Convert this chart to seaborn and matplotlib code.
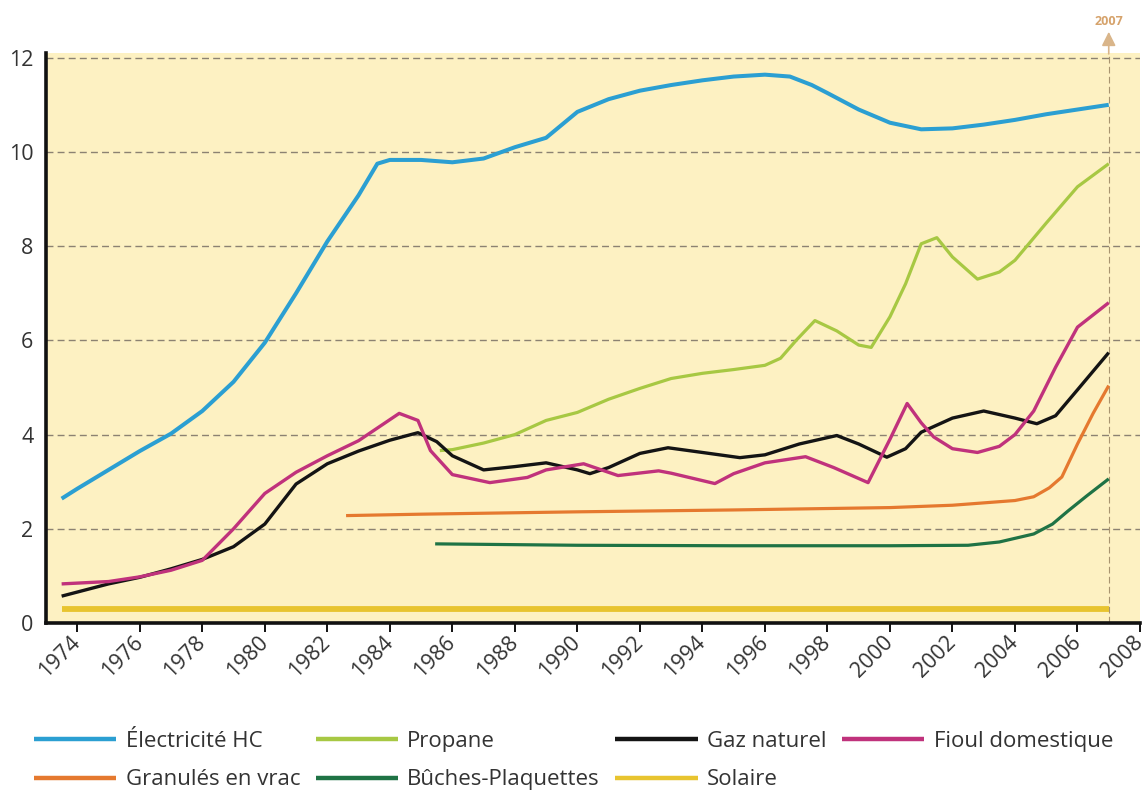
import matplotlib
matplotlib.use("Agg")
import matplotlib.pyplot as plt
import seaborn as sns
from matplotlib.lines import Line2D

# ---- data: price index per energy source (c€/kWh), by year ----
elec_years = [1973.5, 1974, 1975, 1976, 1977, 1978, 1979, 1980, 1981, 1982, 1983, 1983.6,
              1984, 1985, 1986, 1987, 1988, 1989, 1990, 1991, 1992, 1993, 1994, 1995,
              1996, 1996.8, 1997.5, 1998, 1999, 2000, 2001, 2002, 2003, 2004, 2005, 2006, 2007]
elec_vals = [2.64, 2.85, 3.25, 3.65, 4.02, 4.5, 5.12, 5.95, 7.0, 8.1, 9.08, 9.75,
             9.83, 9.83, 9.78, 9.86, 10.1, 10.3, 10.85, 11.12, 11.3, 11.42, 11.52, 11.6,
             11.64, 11.6, 11.42, 11.25, 10.9, 10.62, 10.48, 10.5, 10.58, 10.68, 10.8, 10.9, 11.0]

propane_years = [1985.6, 1986, 1987, 1988, 1989, 1990, 1991, 1992, 1993, 1994, 1995, 1996,
                 1996.5, 1997, 1997.6, 1998.3, 1999, 1999.4, 2000, 2000.5, 2001, 2001.5,
                 2002, 2002.8, 2003.5, 2004, 2005, 2006, 2007]
propane_vals = [3.66, 3.68, 3.82, 4.0, 4.3, 4.47, 4.75, 4.98, 5.19, 5.3, 5.38, 5.47,
                5.62, 6.0, 6.42, 6.2, 5.9, 5.85, 6.5, 7.2, 8.05, 8.18,
                7.77, 7.3, 7.45, 7.7, 8.49, 9.26, 9.75]

gaz_years = [1973.5, 1975, 1976, 1977, 1978, 1979, 1980, 1981, 1982, 1983, 1984, 1984.9,
             1985.5, 1986, 1987, 1988, 1989, 1990, 1990.4, 1991, 1992, 1992.9, 1994, 1995.2,
             1996, 1997.1, 1998.3, 1999, 1999.9, 2000.5, 2001, 2002, 2003, 2004, 2004.7,
             2005.3, 2006, 2007]
gaz_vals = [0.57, 0.83, 0.97, 1.15, 1.35, 1.62, 2.1, 2.95, 3.38, 3.65, 3.88, 4.04,
            3.85, 3.55, 3.25, 3.32, 3.4, 3.25, 3.17, 3.3, 3.6, 3.72, 3.62, 3.51,
            3.57, 3.8, 3.98, 3.8, 3.52, 3.7, 4.05, 4.35, 4.5, 4.35, 4.23,
            4.4, 4.95, 5.74]

fioul_years = [1973.5, 1975, 1976, 1977, 1978, 1979, 1980, 1981, 1982, 1983, 1984.3, 1984.9,
               1985.3, 1986, 1987.2, 1988.4, 1989, 1990.2, 1991.3, 1992.6, 1993, 1994.4,
               1995, 1996, 1997.3, 1998.2, 1999.3, 2000, 2000.55, 2001, 2001.4, 2002,
               2002.8, 2003.5, 2004, 2004.6, 2005.3, 2006, 2007]
fioul_vals = [0.83, 0.88, 0.98, 1.12, 1.33, 2.0, 2.75, 3.2, 3.55, 3.87, 4.45, 4.3,
              3.66, 3.15, 2.98, 3.09, 3.25, 3.38, 3.13, 3.23, 3.18, 2.96,
              3.17, 3.4, 3.53, 3.3, 2.98, 3.9, 4.66, 4.25, 3.95, 3.7,
              3.62, 3.75, 4.0, 4.5, 5.43, 6.28, 6.8]

granules_years = [1982.6, 1985, 1990, 1995, 2000, 2002, 2003, 2004, 2004.6, 2005.1,
                  2005.5, 2006, 2006.5, 2007]
granules_vals = [2.28, 2.31, 2.36, 2.4, 2.45, 2.5, 2.55, 2.6, 2.68, 2.87,
                 3.1, 3.8, 4.45, 5.04]

buches_years = [1985.45, 1990, 1995, 2000, 2002.5, 2003.5, 2004.6, 2005.2, 2005.7, 2006.3, 2007]
buches_vals = [1.68, 1.65, 1.64, 1.64, 1.65, 1.72, 1.89, 2.1, 2.38, 2.7, 3.06]

solaire_years = [1973.5, 2007]
solaire_vals = [0.3, 0.3]

labels = ["Électricité HC", "Propane", "Gaz naturel", "Fioul domestique",
          "Granulés en vrac", "Bûches-Plaquettes", "Solaire"]
year_ticks = list(range(1974, 2009, 2))
value_ticks = [0, 2, 4, 6, 8, 10, 12]

colors = {
    "Électricité HC": "#2b9fd2",
    "Propane": "#a7c843",
    "Gaz naturel": "#141414",
    "Fioul domestique": "#c0327c",
    "Granulés en vrac": "#e5792f",
    "Bûches-Plaquettes": "#1f7345",
    "Solaire": "#e8c42f",
}
widths = {
    "Électricité HC": 2.9,
    "Propane": 2.3,
    "Gaz naturel": 2.4,
    "Fioul domestique": 2.4,
    "Granulés en vrac": 2.3,
    "Bûches-Plaquettes": 2.3,
    "Solaire": 4.2,
}
series = {
    "Électricité HC": (elec_years, elec_vals),
    "Propane": (propane_years, propane_vals),
    "Gaz naturel": (gaz_years, gaz_vals),
    "Fioul domestique": (fioul_years, fioul_vals),
    "Granulés en vrac": (granules_years, granules_vals),
    "Bûches-Plaquettes": (buches_years, buches_vals),
    "Solaire": (solaire_years, solaire_vals),
}

sns.set_theme(style="white")
plt.rcParams["font.family"] = ["Open Sans", "DejaVu Sans"]
text_color = "#333333"

fig = plt.figure(figsize=(11.45, 7.92), dpi=100)
ax = fig.add_axes([46 / 1145, 1 - 623 / 792, (1140 - 46) / 1145, (623 - 53) / 792])
ax.set_facecolor("#fdf1c2")

# dashed horizontal guides
for v in value_ticks[1:]:
    ax.axhline(v, color="#8c8272", lw=1.0, dashes=(5, 3), zorder=1)

# reference year marker
ax.axvline(2007, color="#a8946f", lw=0.8, dashes=(6, 3), zorder=1.5)

draw_order = ["Solaire", "Bûches-Plaquettes", "Granulés en vrac", "Propane",
              "Gaz naturel", "Fioul domestique", "Électricité HC"]
for name in draw_order:
    xs, ys = series[name]
    sns.lineplot(x=xs, y=ys, ax=ax, color=colors[name], lw=widths[name],
                 legend=False, zorder=3)
    ax.lines[-1].set_solid_capstyle("butt")
    ax.lines[-1].set_solid_joinstyle("round")

ax.set_xlim(1973, 2008)
ax.set_ylim(0, 12.1)
ax.set_xticks(year_ticks)
ax.set_xticklabels([str(y) for y in year_ticks])
ax.set_yticks(value_ticks)
ax.set_yticklabels([str(v) for v in value_ticks])
ax.set_xlabel("")
ax.set_ylabel("")

for side in ["top", "right"]:
    ax.spines[side].set_visible(False)
for side in ["left", "bottom"]:
    ax.spines[side].set_color("#111111")
    ax.spines[side].set_linewidth(2.6)

ax.tick_params(axis="x", length=6.5, width=1.4, color="#111111", direction="out",
               pad=5.5, labelsize=15.5, labelcolor=text_color, bottom=True)
ax.tick_params(axis="y", length=0, pad=9, labelsize=15.5, labelcolor=text_color, left=False)
for lab in ax.get_xticklabels():
    lab.set_rotation(45)
    lab.set_ha("right")
    lab.set_va("center")
    lab.set_rotation_mode("anchor")

# arrow + label above the 2007 marker
ax.annotate("", xy=(2007, 12.55), xytext=(2007, 12.08),
            arrowprops=dict(arrowstyle="-|>,head_length=0.7,head_width=0.35",
                            color="#d9b58a", lw=1.2, shrinkA=0, shrinkB=0),
            annotation_clip=False)
ax.text(2007, 12.76, "2007", ha="center", va="center", color="#d6a36c",
        fontsize=9, fontweight="bold", clip_on=False)

# legend: two rows, column-major ordering
legend_order = ["Électricité HC", "Granulés en vrac", "Propane", "Bûches-Plaquettes",
                "Gaz naturel", "Solaire", "Fioul domestique"]
handles = [Line2D([0], [0], color=colors[n], lw=3.2, solid_capstyle="butt") for n in legend_order]
fig.legend(handles, legend_order, loc="upper left", bbox_to_anchor=(34 / 1145, 1 - 731 / 792),
           ncol=4, frameon=False, fontsize=16, handlelength=3.7, handletextpad=0.42,
           columnspacing=0.7, labelspacing=0.78, borderpad=0, borderaxespad=0,
           labelcolor=text_color)

fig.savefig("out.png", dpi=100, facecolor="white")
